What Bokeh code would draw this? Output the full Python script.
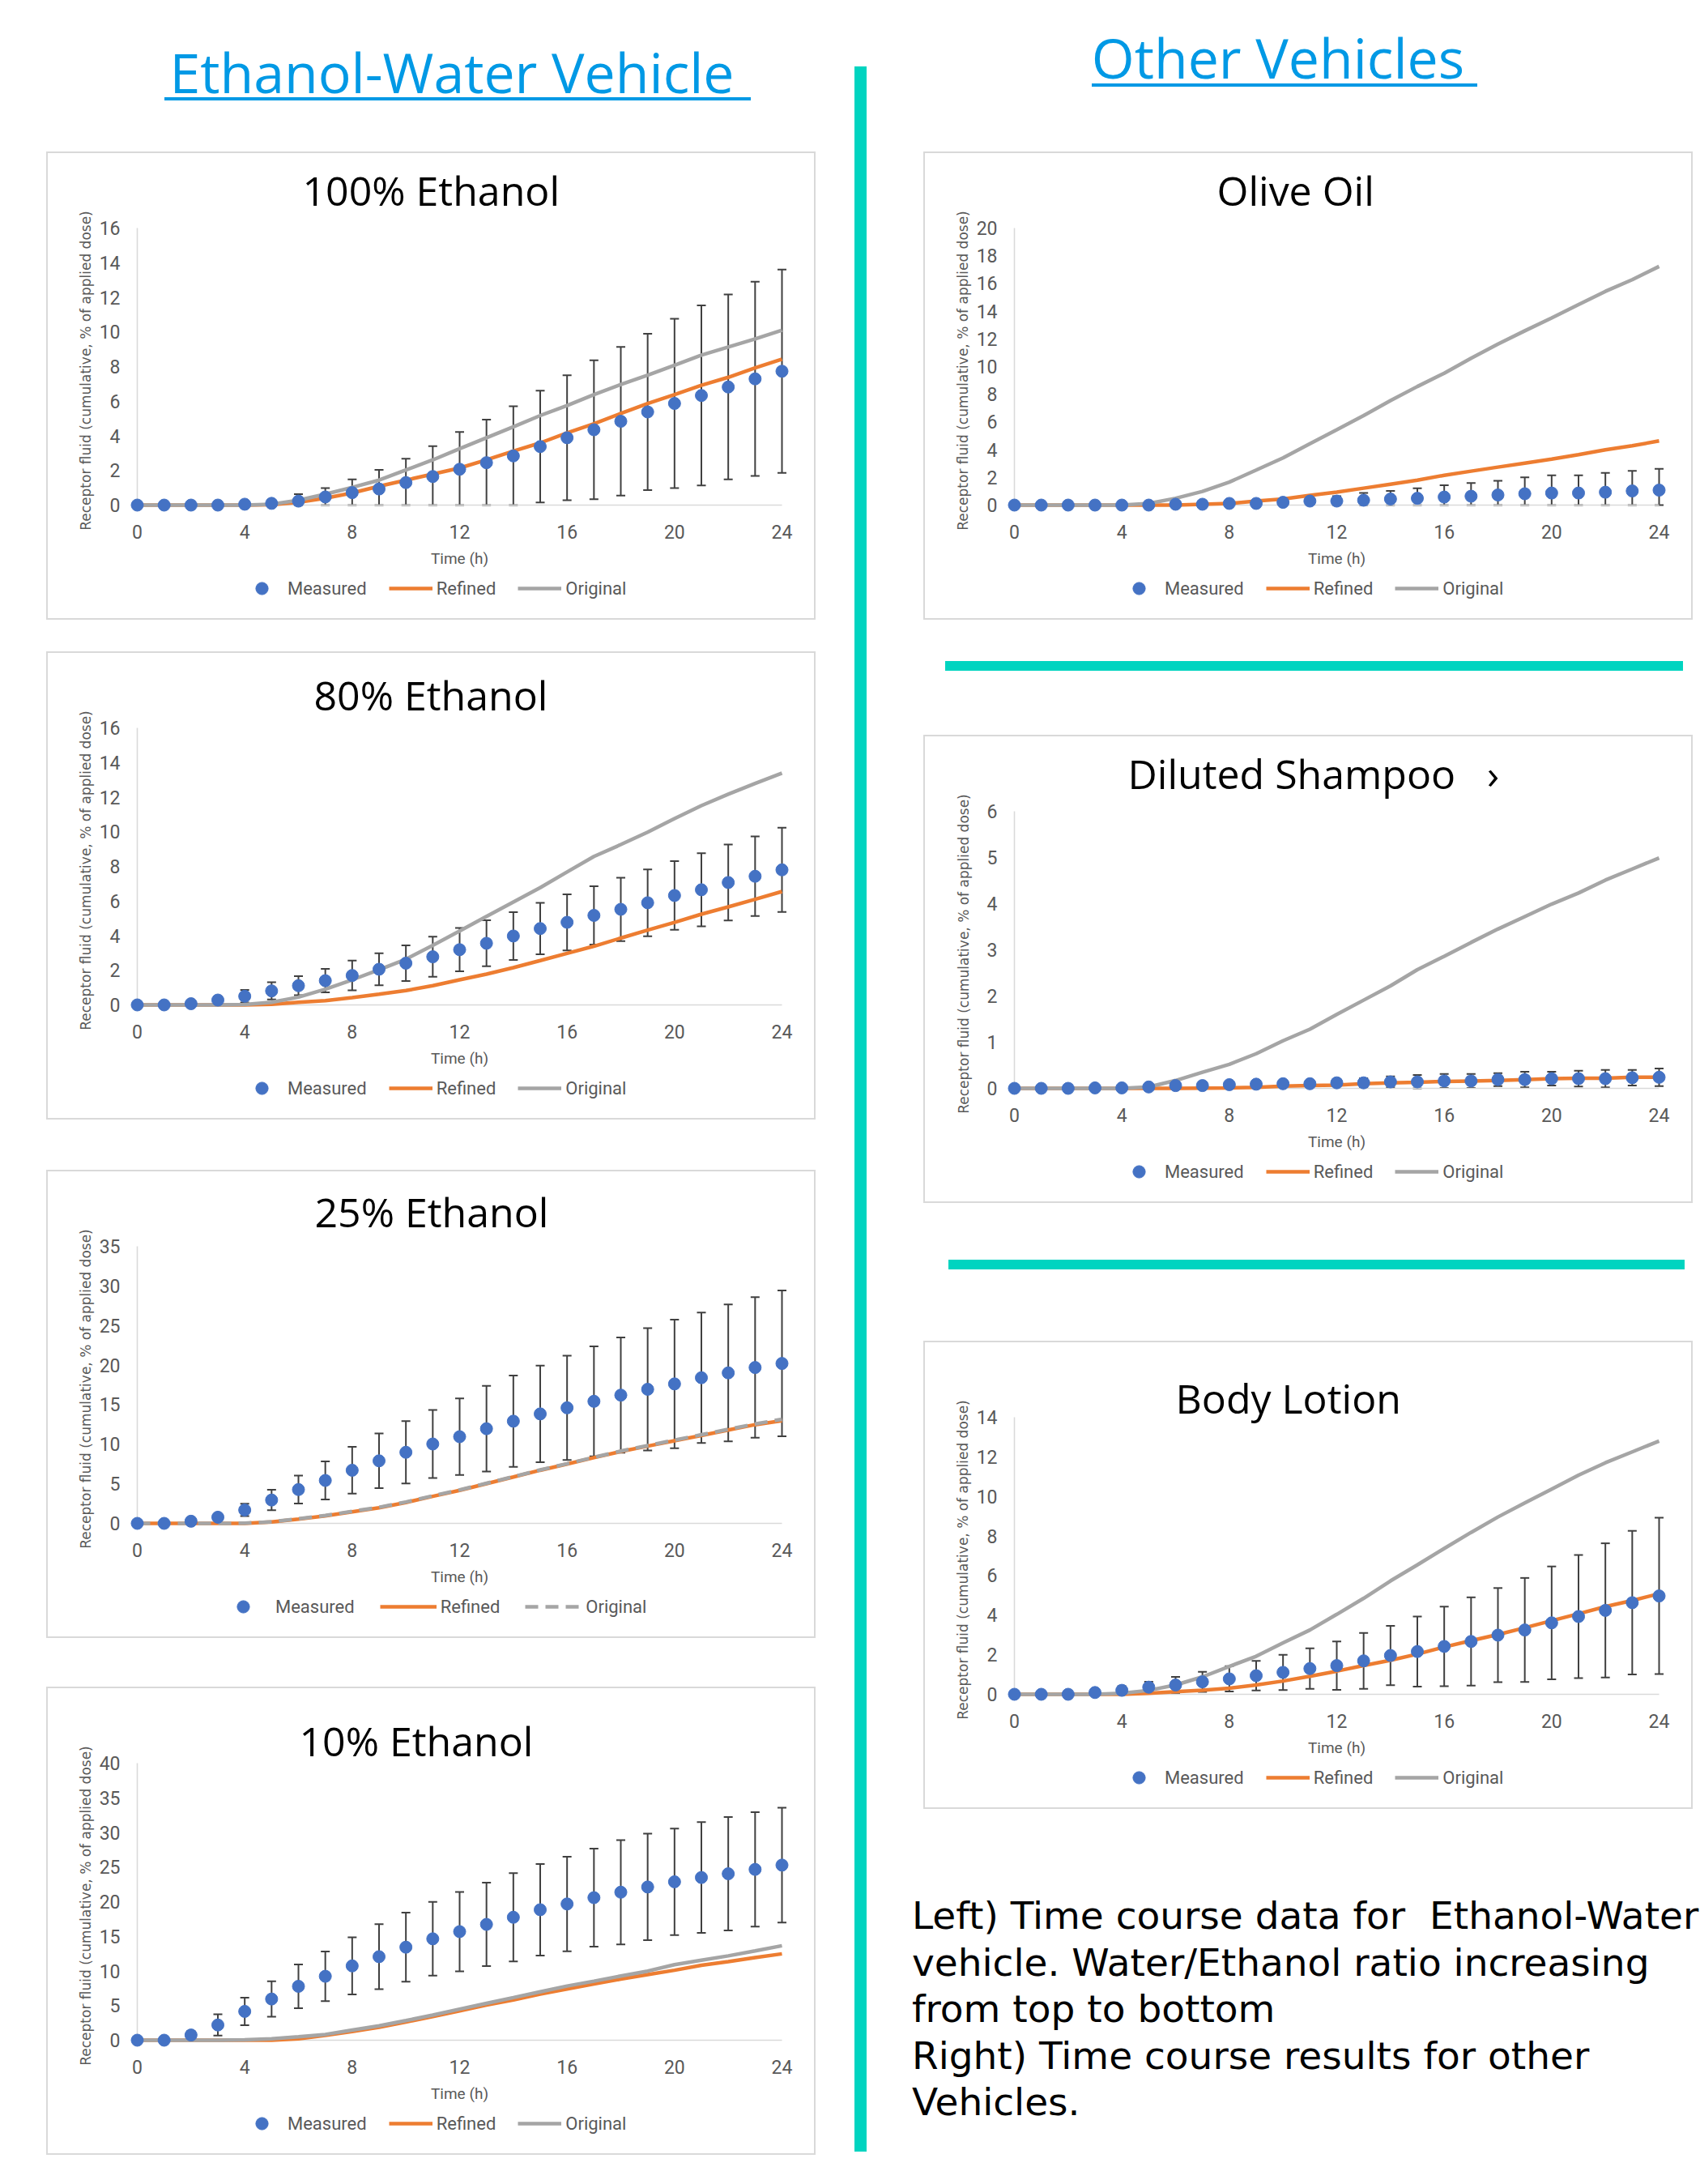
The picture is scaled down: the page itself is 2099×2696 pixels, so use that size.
from bokeh.plotting import figure
from bokeh.models import (Range1d, FixedTicker, Whisker, TeeHead, ColumnDataSource,
                          Legend, LegendItem, Div)
from bokeh.layouts import column, row
from bokeh.embed import file_html
from bokeh.resources import INLINE

# ---------------- data ----------------
hours = list(range(25))
x_ticks = [0, 4, 8, 12, 16, 20, 24]
series_labels = ["Measured", "Refined", "Original"]
y_axis_title = "Receptor fluid (cumulative, % of applied dose)"
x_axis_title = "Time (h)"

e100_measured = [0, 0, 0, 0, 0.05, 0.1, 0.23, 0.47, 0.72, 0.93, 1.3, 1.65, 2.07, 2.45, 2.84, 3.38, 3.89, 4.35, 4.84, 5.38, 5.87, 6.33, 6.82, 7.29, 7.73]
e100_sd = [0, 0, 0, 0, 0.03, 0.08, 0.4, 0.51, 0.77, 1.1, 1.38, 1.75, 2.15, 2.49, 2.87, 3.23, 3.61, 4.01, 4.29, 4.52, 4.89, 5.2, 5.34, 5.61, 5.87]
e100_refined = [0, 0, 0, 0, 0, 0.02, 0.16, 0.4, 0.7, 1.09, 1.44, 1.79, 2.14, 2.61, 3.12, 3.59, 4.17, 4.7, 5.29, 5.87, 6.38, 6.92, 7.38, 7.92, 8.43]
e100_original = [0, 0, 0, 0, 0, 0.05, 0.28, 0.63, 1.02, 1.44, 2.03, 2.61, 3.26, 3.89, 4.52, 5.17, 5.75, 6.38, 6.96, 7.5, 8.08, 8.66, 9.13, 9.6, 10.1]

e80_measured = [0, 0, 0.07, 0.28, 0.5, 0.81, 1.11, 1.4, 1.7, 2.06, 2.41, 2.78, 3.19, 3.56, 3.98, 4.41, 4.77, 5.17, 5.52, 5.9, 6.32, 6.65, 7.07, 7.43, 7.8]
e80_sd = [0, 0, 0.03, 0.2, 0.36, 0.5, 0.55, 0.68, 0.86, 0.92, 1.03, 1.16, 1.25, 1.33, 1.38, 1.49, 1.62, 1.68, 1.83, 1.93, 1.98, 2.11, 2.19, 2.3, 2.43]
e80_refined = [0, 0, 0, 0, 0, 0.03, 0.15, 0.25, 0.42, 0.62, 0.83, 1.11, 1.45, 1.78, 2.15, 2.56, 2.98, 3.39, 3.86, 4.32, 4.77, 5.24, 5.66, 6.1, 6.55]
e80_original = [0, 0, 0, 0, 0.02, 0.15, 0.45, 0.91, 1.45, 2.03, 2.64, 3.44, 4.27, 5.11, 5.94, 6.77, 7.68, 8.57, 9.26, 9.98, 10.76, 11.51, 12.17, 12.79, 13.39]

e25_measured = [0, 0, 0.27, 0.78, 1.69, 2.95, 4.27, 5.42, 6.71, 7.9, 8.98, 10.03, 10.95, 11.96, 12.91, 13.83, 14.6, 15.42, 16.2, 16.94, 17.62, 18.4, 19.01, 19.69, 20.2]
e25_sd = [0, 0, 0.1, 0.3, 0.78, 1.29, 1.76, 2.41, 2.95, 3.45, 3.93, 4.3, 4.84, 5.42, 5.76, 6.1, 6.58, 6.95, 7.28, 7.73, 8.13, 8.24, 8.64, 8.88, 9.21]
e25_refined = [0, 0, 0, 0, 0, 0.17, 0.54, 0.95, 1.46, 1.97, 2.64, 3.42, 4.17, 5.02, 5.86, 6.71, 7.49, 8.3, 9.08, 9.76, 10.44, 11.11, 11.79, 12.47, 12.98]
e25_original = [0, 0, 0, 0, 0.02, 0.2, 0.58, 1.0, 1.52, 2.03, 2.7, 3.48, 4.22, 5.07, 5.9, 6.75, 7.54, 8.35, 9.13, 9.83, 10.52, 11.2, 11.88, 12.56, 13.15]

e10_measured = [0, 0, 0.75, 2.2, 4.16, 5.95, 7.78, 9.23, 10.73, 12.06, 13.43, 14.64, 15.68, 16.72, 17.75, 18.84, 19.67, 20.58, 21.37, 22.12, 22.87, 23.49, 24.03, 24.66, 25.28]
e10_sd = [0, 0, 0.58, 1.54, 1.99, 2.57, 3.16, 3.58, 4.11, 4.7, 4.99, 5.32, 5.73, 6.02, 6.37, 6.61, 6.82, 7.07, 7.53, 7.69, 7.69, 7.99, 8.19, 8.27, 8.28]
e10_refined = [0, 0, 0, 0, 0, 0, 0.2, 0.7, 1.25, 1.87, 2.62, 3.41, 4.24, 5.07, 5.82, 6.65, 7.4, 8.11, 8.82, 9.48, 10.1, 10.81, 11.35, 11.93, 12.47]
e10_original = [0, 0, 0, 0, 0.05, 0.2, 0.5, 0.83, 1.46, 2.08, 2.83, 3.62, 4.49, 5.32, 6.15, 6.99, 7.82, 8.52, 9.27, 9.98, 10.9, 11.56, 12.18, 12.89, 13.64]

olive_measured = [0, 0, 0, 0, 0, 0, 0.06, 0.06, 0.12, 0.12, 0.2, 0.29, 0.29, 0.35, 0.44, 0.49, 0.58, 0.64, 0.73, 0.82, 0.87, 0.87, 0.93, 1.02, 1.08]
olive_sd = [0, 0, 0, 0, 0, 0, 0.02, 0.03, 0.05, 0.1, 0.15, 0.25, 0.35, 0.52, 0.58, 0.73, 0.85, 0.96, 1.02, 1.18, 1.28, 1.28, 1.4, 1.45, 1.54]
olive_refined = [0, 0, 0, 0, 0, 0, 0, 0.06, 0.12, 0.29, 0.44, 0.7, 0.93, 1.22, 1.51, 1.8, 2.15, 2.45, 2.74, 3.03, 3.32, 3.64, 3.99, 4.28, 4.63]
olive_original = [0, 0, 0, 0, 0, 0.12, 0.49, 0.99, 1.66, 2.53, 3.41, 4.43, 5.44, 6.46, 7.54, 8.56, 9.52, 10.6, 11.62, 12.58, 13.51, 14.47, 15.43, 16.27, 17.23]

shampoo_measured = [0, 0, 0, 0.01, 0.01, 0.03, 0.06, 0.06, 0.08, 0.09, 0.1, 0.1, 0.12, 0.12, 0.14, 0.14, 0.16, 0.16, 0.19, 0.19, 0.21, 0.21, 0.21, 0.23, 0.24]
shampoo_sd = [0, 0, 0, 0, 0, 0, 0.01, 0.01, 0.02, 0.03, 0.04, 0.05, 0.06, 0.1, 0.12, 0.15, 0.15, 0.15, 0.14, 0.17, 0.15, 0.17, 0.19, 0.17, 0.19]
shampoo_refined = [0, 0, 0, 0, 0, 0, 0, 0.005, 0.01, 0.02, 0.05, 0.06, 0.07, 0.1, 0.12, 0.13, 0.15, 0.16, 0.17, 0.19, 0.21, 0.22, 0.22, 0.24, 0.24]
shampoo_original = [0, 0, 0, 0, 0, 0.03, 0.17, 0.35, 0.52, 0.75, 1.03, 1.28, 1.6, 1.91, 2.22, 2.57, 2.86, 3.16, 3.45, 3.72, 3.99, 4.23, 4.51, 4.75, 4.99]

lotion_measured = [0, 0, 0, 0.09, 0.2, 0.36, 0.47, 0.63, 0.78, 0.94, 1.11, 1.3, 1.45, 1.69, 1.96, 2.16, 2.42, 2.67, 2.99, 3.25, 3.61, 3.93, 4.24, 4.63, 4.97]
lotion_sd = [0, 0, 0, 0.05, 0.21, 0.27, 0.41, 0.51, 0.64, 0.75, 0.89, 1.02, 1.22, 1.41, 1.5, 1.77, 2.01, 2.23, 2.38, 2.63, 2.85, 3.11, 3.39, 3.63, 3.95]
lotion_refined = [0, 0, 0, 0, 0, 0.05, 0.13, 0.2, 0.31, 0.47, 0.67, 0.91, 1.17, 1.45, 1.72, 2.03, 2.39, 2.71, 3.02, 3.36, 3.72, 4.07, 4.43, 4.74, 5.08]
lotion_original = [0, 0, 0, 0, 0.05, 0.2, 0.47, 0.88, 1.41, 1.92, 2.6, 3.25, 4.04, 4.85, 5.73, 6.54, 7.37, 8.18, 8.96, 9.67, 10.37, 11.07, 11.7, 12.25, 12.8]

left_heading = "Ethanol-Water Vehicle"
right_heading = "Other Vehicles"
caption_lines = [
    "Left) Time course data for  Ethanol-Water",
    "vehicle. Water/Ethanol ratio increasing",
    "from top to bottom",
    "Right) Time course results for other",
    "Vehicles.",
]

# ---------------- style ----------------
BLUE = "#4472C4"
ORANGE = "#ED7D31"
GREY = "#A5A5A5"
ERR = "#404040"
AXIS = "#D9D9D9"
TXT = "#595959"
HEAD = "#0099E5"
TEAL = "#00D4C0"
FRAME_CSS = "2px solid #D9D9D9"

BOX_W = 950
X0, XW, YT, YH = 112, 796, 94, 342
PADX, PADB, PADT = 14, 12, 2
FL = X0 - PADX - 2          # frame left inside canvas (2px css border)
FT = YT - PADT - 2          # frame top inside canvas
FW = XW + 2 * PADX
FH = YH + PADT + PADB
FR = BOX_W - FL - FW        # right border of canvas
CHART_C = 522               # chart content height inside the box
LEG_C = 578 - 4 - CHART_C   # legend strip content height
CHART_H = CHART_C + 2
LEG_H = LEG_C + 2


def panel(title, t_left, t_valign, t_standoff, ymax, ystep, meas, sd, ref, orig, dashed=False,
          glyph_w=54, leg_spacing=27, leg_x=141, top_gap=0, mleft=57, mright=33):
    xs = 24.0 / XW
    ys = ymax / YH
    xr = Range1d(-PADX * xs, 24 + PADX * xs)
    yr = Range1d(-PADB * ys, ymax + PADT * ys)
    p = figure(width=BOX_W, height=CHART_H, x_range=xr, y_range=yr,
               min_border_left=FL, min_border_right=FR,
               min_border_top=FT, min_border_bottom=CHART_H - FT - FH,
               toolbar_location=None, output_backend="svg", outline_line_color=None,
               background_fill_color="white", border_fill_color="white",
               margin=(top_gap, mright, 0, mleft), title=title)
    p.styles = {"border": FRAME_CSS, "border-bottom": "none"}
    p.grid.visible = False

    p.title.align = "left"
    p.title.offset = t_left - (FL + 2)
    p.title.vertical_align = t_valign
    p.title.text_font = "Open Sans"
    p.title.text_font_size = "50px"
    p.title.text_font_style = "normal"
    p.title.text_color = "black"
    p.title.standoff = t_standoff

    xa = p.xaxis[0]
    xa.ticker = FixedTicker(ticks=x_ticks)
    xa.axis_line_color = None
    xa.major_tick_line_color = None
    xa.minor_tick_line_color = None
    xa.major_tick_out = 0
    xa.major_tick_in = 0
    xa.minor_tick_out = 0
    xa.major_label_standoff = 12
    xa.major_label_text_font = "Roboto"
    xa.major_label_text_font_size = "23px"
    xa.major_label_text_color = TXT
    xa.axis_label = x_axis_title
    xa.axis_label_standoff = 10
    xa.axis_label_text_font = "Roboto"
    xa.axis_label_text_font_size = "19px"
    xa.axis_label_text_font_style = "normal"
    xa.axis_label_text_color = TXT

    ya = p.yaxis[0]
    ya.ticker = FixedTicker(ticks=list(range(0, ymax + 1, ystep)))
    ya.axis_line_color = None
    ya.major_tick_line_color = None
    ya.minor_tick_line_color = None
    ya.major_tick_out = 0
    ya.major_tick_in = 0
    ya.minor_tick_out = 0
    ya.major_label_standoff = 7
    ya.major_label_text_font = "Roboto"
    ya.major_label_text_font_size = "23px"
    ya.major_label_text_color = TXT
    ya.axis_label = y_axis_title
    ya.axis_label_standoff = 4 if ymax >= 10 else 16
    ya.axis_label_text_font = "DejaVu Sans"
    ya.axis_label_text_font_size = "17px"
    ya.axis_label_text_font_style = "normal"
    ya.axis_label_text_color = TXT

    # axis lines at x=0 and y=0
    p.segment(x0=[0, 0], y0=[0, 0], x1=[0, 24], y1=[ymax, 0], line_color=AXIS, line_width=1.6)

    src = ColumnDataSource(dict(
        t=hours, m=meas,
        upper=[m + s for m, s in zip(meas, sd)],
        lower=[max(m - s, 0) for m, s in zip(meas, sd)],
    ))
    p.add_layout(Whisker(source=src, base="t", upper="upper", lower="lower",
                         line_color=ERR, line_width=2,
                         upper_head=TeeHead(size=11, line_color=ERR, line_width=2),
                         lower_head=TeeHead(size=11, line_color=ERR, line_width=2)))

    dash = "16 9" if dashed else "solid"
    p.line(hours, ref, line_color=ORANGE, line_width=4.5)
    p.line(hours, orig, line_color=GREY, line_width=4.5, line_dash=dash)
    p.scatter("t", "m", source=src, size=15, fill_color=BLUE, line_color=BLUE)

    # legend strip below the chart (same series, same styles; data lies outside its view)
    lg = figure(width=BOX_W, height=LEG_H, x_range=Range1d(-300, -299), y_range=Range1d(-300, -299),
                min_border_left=FL, min_border_right=FR, min_border_top=0, min_border_bottom=0,
                toolbar_location=None, output_backend="svg", outline_line_color=None,
                x_axis_location=None, y_axis_location=None,
                background_fill_color="white", border_fill_color="white",
                margin=(0, mright, 0, mleft))
    lg.styles = {"border": FRAME_CSS, "border-top": "none"}
    lg.grid.visible = False
    l_meas = lg.scatter(hours, meas, size=15, fill_color=BLUE, line_color=BLUE)
    l_ref = lg.line(hours, ref, line_color=ORANGE, line_width=4.5)
    l_orig = lg.line(hours, orig, line_color=GREY, line_width=4.5, line_dash=dash)
    leg = Legend(items=[LegendItem(label=series_labels[0], renderers=[l_meas]),
                        LegendItem(label=series_labels[1], renderers=[l_ref]),
                        LegendItem(label=series_labels[2], renderers=[l_orig])],
                 orientation="horizontal", location=(leg_x, 20), margin=0, padding=0,
                 spacing=leg_spacing, glyph_width=glyph_w, glyph_height=38, label_standoff=5,
                 border_line_color=None, background_fill_alpha=0,
                 label_text_font="Roboto", label_text_font_size="22px", label_text_color=TXT)
    lg.add_layout(leg)
    return p, lg


def box_div(w, h, inner):
    return Div(text=f'<div style="position:relative;width:{w}px;height:{h}px;overflow:hidden;">{inner}</div>',
               width=w, height=h, margin=(0, 0, 0, 0))


def bar(left, top, w, h, color):
    return (f'<div style="position:absolute;left:{left}px;top:{top}px;width:{w}px;'
            f'height:{h}px;background:{color};"></div>')


def heading(text, center_x, baseline):
    top = baseline - 60.4
    return (f'<div style="position:absolute;left:0px;top:{top}px;width:{2 * center_x}px;'
            f'text-align:center;font-family:\'Open Sans\';font-size:68px;line-height:68px;'
            f'color:{HEAD};white-space:nowrap;">{text}</div>')


# headers
hL = box_div(1040, 187, heading(left_heading, 558, 115) + bar(203, 120, 724, 4, HEAD))
hR = box_div(999, 187, heading(right_heading, 478, 97) + bar(248, 102.5, 476, 4, HEAD))

# left panels
pL1, lL1 = panel("100% Ethanol", 316, "middle", 19, 16, 2, e100_measured, e100_sd, e100_refined,
                 e100_original)
pL2, lL2 = panel("80% Ethanol", 330, "bottom", 9, 16, 2, e80_measured, e80_sd, e80_refined,
                 e80_original, top_gap=39)
pL3, lL3 = panel("25% Ethanol", 331, "bottom", 13, 35, 5, e25_measured, e25_sd, e25_refined,
                 e25_original, dashed=True, glyph_w=70, leg_spacing=31, leg_x=110, top_gap=62)
pL4, lL4 = panel("10% Ethanol", 312, "bottom", -17, 40, 5, e10_measured, e10_sd, e10_refined,
                 e10_original, top_gap=60)

# right panels
pR1, lR1 = panel("Olive Oil", 362, "top", 18, 20, 2, olive_measured, olive_sd, olive_refined,
                 olive_original, mleft=40, mright=9)
pR2, lR2 = panel("Diluted Shampoo\u00a0\u00a0\u00a0\u203a", 252, "middle", 19, 6, 1, shampoo_measured,
                 shampoo_sd, shampoo_refined, shampoo_original, mleft=40, mright=9)
pR3, lR3 = panel("Body Lotion", 311, "bottom", -25, 14, 2, lotion_measured, lotion_sd,
                 lotion_refined, lotion_original, mleft=40, mright=9)

g1 = box_div(999, 142, bar(67, 51, 911, 12, TEAL))
g2 = box_div(999, 170, bar(71, 70, 909, 12, TEAL))

cap_html = (f'<div style="position:absolute;left:26px;top:103px;font-family:\'DejaVu Sans\';'
            f'font-size:47px;line-height:57.5px;color:black;white-space:pre;">'
            + "\n".join(caption_lines) + '</div>')
cap = box_div(999, 463, cap_html)

mid = box_div(60, 2696, bar(15, 82, 15, 2574, TEAL))

left_col = column(hL, pL1, lL1, pL2, lL2, pL3, lL3, pL4, lL4)
right_col = column(hR, pR1, lR1, g1, pR2, lR2, g2, pR3, lR3, cap)
layout = row(left_col, mid, right_col)

open("out.html", "w").write(file_html(layout, INLINE, "Time course"))
